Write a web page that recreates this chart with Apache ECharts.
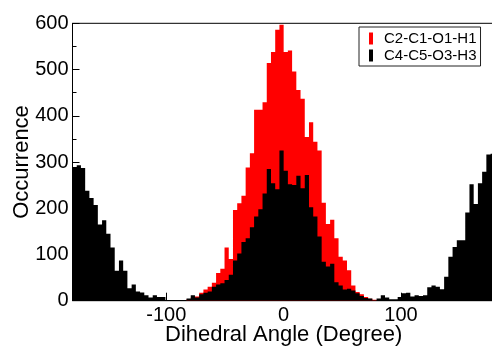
<!DOCTYPE html>
<html>
<head>
<meta charset="utf-8">
<script src="https://cdn.jsdelivr.net/npm/echarts@6/dist/echarts.min.js"></script>
<style>
  html, body { margin: 0; padding: 0; background: #fff; }
  #chart { width: 492px; height: 347px; }
</style>
</head>
<body>
<div id="chart"></div>
<script>
// Histogram of dihedral angles: 100 bins of 3.6 degrees from -180 to 180.
const binStart = -180;
const binWidth = 3.6;

const seriesNames = ['C2-C1-O1-H1', 'C4-C5-O3-H3'];

// Occurrence per bin, C2-C1-O1-H1
const countsC2C1O1H1 = [
  0, 0, 0, 0, 0, 0, 0, 0, 0, 0,
  0, 0, 0, 0, 0, 0, 0, 0, 0, 0,
  0, 0, 0, 0, 0, 0, 0, 3, 7, 9,
  17, 24, 30, 39, 60, 69, 115, 90, 196, 211,
  227, 288, 319, 413, 413, 429, 514, 538, 586, 597,
  538, 541, 496, 456, 437, 354, 386, 344, 325, 212,
  166, 175, 135, 95, 87, 66, 33, 19, 14, 8,
  4, 2, 0, 0, 0, 0, 0, 0, 0, 0,
  0, 0, 0, 0, 0, 0, 0, 0, 0, 0,
  0, 0, 0, 0, 0, 0, 0, 0, 0, 0
];

// Occurrence per bin, C4-C5-O3-H3
const countsC4C5O3H3 = [
  289, 293, 287, 238, 222, 207, 165, 174, 145, 115,
  65, 87, 65, 27, 35, 20, 18, 12, 7, 12,
  8, 8, 1, 1, 1, 1, 1, 5, 12, 7,
  14, 17, 20, 30, 35, 38, 45, 56, 87, 102,
  127, 135, 159, 182, 198, 232, 285, 254, 241, 325,
  281, 252, 250, 270, 243, 272, 202, 182, 139, 84,
  74, 80, 40, 33, 24, 26, 22, 16, 10, 6,
  5, 1, 5, 12, 7, 3, 3, 8, 16, 17,
  9, 12, 10, 12, 29, 33, 30, 25, 52, 95,
  116, 131, 131, 191, 252, 209, 254, 279, 316, 318
];

const xTickValues = [-100, 0, 100];
const yMin = 0, yMax = 600, yStep = 100;

const FONT = '"Liberation Sans", Arial, Helvetica, sans-serif';

function toBins(counts) {
  return counts.map((c, i) => [binStart + i * binWidth, binStart + (i + 1) * binWidth, c]);
}

// Each histogram is drawn as one stepped outline, filled, so that adjacent
// bins share edges without seams. Every vertex goes through api.coord.
function stepRenderer(counts) {
  return function (params, api) {
    if (params.dataIndex !== 0) return null;
    const pts = [api.coord([binStart, 0])];
    counts.forEach((c, i) => {
      const x0 = binStart + i * binWidth;
      const x1 = binStart + (i + 1) * binWidth;
      pts.push(api.coord([x0, c]));
      pts.push(api.coord([x1, c]));
    });
    pts.push(api.coord([binStart + counts.length * binWidth, 0]));
    return {
      type: 'polygon',
      shape: { points: pts },
      style: { fill: api.visual('color'), stroke: null, lineWidth: 0 }
    };
  };
}

const chart = echarts.init(document.getElementById('chart'), null, { renderer: 'canvas' });

chart.setOption({
  animation: false,
  backgroundColor: '#fff',
  textStyle: { fontFamily: FONT, color: '#000' },
  grid: {
    left: 72.5, top: 23.3, width: 422.3, height: 277.4,
    outerBoundsMode: 'none',
    containLabel: false,
    show: true, borderColor: '#000', borderWidth: 1, backgroundColor: 'transparent'
  },
  legend: {
    data: seriesNames,
    orient: 'vertical',
    left: 359, top: 27,
    padding: [4, 4, 3, 10],
    itemGap: 2,
    itemWidth: 4,
    itemHeight: 12,
    icon: 'rect',
    borderColor: '#222',
    borderWidth: 1,
    backgroundColor: '#fff',
    textStyle: { fontFamily: FONT, fontSize: 15, color: '#000', padding: [0, 0, 0, 6] }
  },
  xAxis: {
    type: 'value',
    min: binStart,
    max: binStart + binWidth * countsC4C5O3H3.length,
    name: 'Dihedral Angle (Degree)',
    nameLocation: 'middle',
    nameGap: 23,
    nameMoveOverlap: false,
    nameTextStyle: { fontFamily: FONT, fontSize: 22, color: '#000' },
    axisLine: { show: true, onZero: false, lineStyle: { color: '#000', width: 1 } },
    axisTick: { show: true, inside: true, length: 8, customValues: xTickValues, lineStyle: { color: '#000' } },
    axisLabel: { customValues: xTickValues, fontFamily: FONT, fontSize: 20, color: '#000', margin: 5 },
    splitLine: { show: false }
  },
  yAxis: {
    type: 'value',
    min: yMin, max: yMax, interval: yStep,
    name: 'Occurrence',
    nameLocation: 'middle',
    nameGap: 40,
    nameRotate: 90,
    nameMoveOverlap: false,
    nameTextStyle: { fontFamily: FONT, fontSize: 22, color: '#000' },
    axisLine: { show: true, onZero: false, lineStyle: { color: '#000', width: 1 } },
    axisTick: { show: true, inside: true, length: 7, lineStyle: { color: '#000' } },
    minorTick: { show: true, splitNumber: 2, length: 4, lineStyle: { color: '#000' } },
    axisLabel: { fontFamily: FONT, fontSize: 20, color: '#000', margin: 4 },
    splitLine: { show: false }
  },
  series: [
    {
      name: seriesNames[0],
      type: 'custom',
      renderItem: stepRenderer(countsC2C1O1H1),
      itemStyle: { color: '#ff0000' },
      encode: { x: [0, 1], y: 2 },
      data: toBins(countsC2C1O1H1),
      z: 2
    },
    {
      name: seriesNames[1],
      type: 'custom',
      renderItem: stepRenderer(countsC4C5O3H3),
      itemStyle: { color: '#000000' },
      encode: { x: [0, 1], y: 2 },
      data: toBins(countsC4C5O3H3),
      z: 3
    }
  ]
});
</script>
</body>
</html>
